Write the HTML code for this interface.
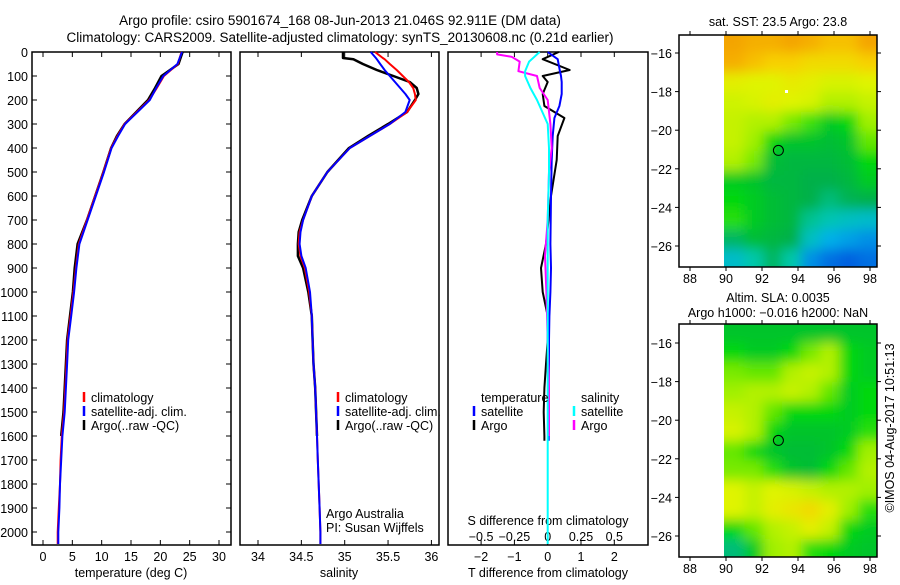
<!DOCTYPE html>
<html><head><meta charset="utf-8"><style>
body{margin:0;background:#fff;}
svg text{font-family:"Liberation Sans",sans-serif;font-size:12.5px;fill:#000;}
</style></head><body>
<svg id="c" width="900" height="580" xmlns="http://www.w3.org/2000/svg">
<defs>
<filter id="bl" x="-0.1" y="-0.1" width="1.2" height="1.2"><feGaussianBlur stdDeviation="6" edgeMode="duplicate"/></filter>
<clipPath id="cm1"><rect x="724" y="35" width="153" height="232"/></clipPath>
<clipPath id="cm2"><rect x="724" y="324" width="153" height="233"/></clipPath>
</defs>
<text x="340" y="25" text-anchor="middle" style="font-size:13.5px">Argo profile: csiro 5901674_168 08-Jun-2013 21.046S 92.911E (DM data)</text>
<text x="340" y="42" text-anchor="middle" style="font-size:13.5px">Climatology: CARS2009. Satellite-adjusted climatology: synTS_20130608.nc (0.21d earlier)</text>
<g id="g"></g>
</svg>
<script>
// ---- data ----
const depths = [0,50,100,150,200,250,300,350,400,500,600,700,800,900,1000,1100,1200,1300,1400,1500,1600,1700,1800,1900,2000,2050];
const tempClim = [23.6,23.0,20.6,19.4,18.1,16.0,13.9,12.7,11.6,10.3,8.9,7.5,6.1,5.6,5.2,4.7,4.2,4.0,3.8,3.6,3.2,3.0,2.9,2.7,2.5,2.5];
const tempSat  = [23.7,22.9,20.5,19.3,18.2,16.1,14.0,12.8,11.7,10.4,9.0,7.6,6.2,5.7,5.3,4.8,4.3,4.1,3.9,3.7,3.3,3.1,2.9,2.8,2.6,2.6];
const tempArgo = [23.8,23.1,20.2,19.1,17.9,15.9,13.9,12.6,11.6,10.3,8.9,7.5,5.9,5.4,5.1,4.6,4.1,3.9,3.7,3.5,3.1];
const salDepths = [0,25,30,50,75,100,125,150,175,200,250,300,350,400,500,600,700,750,800,850,900,1000,1100,1200,1300,1400,1500,1600,1700,1800,1900,2000,2050];
const salClim = [35.35,35.44,35.46,35.52,35.60,35.67,35.74,35.79,35.81,35.82,35.72,35.52,35.29,35.06,34.80,34.62,34.52,34.48,34.47,34.49,34.54,34.59,34.62,34.63,34.64,34.66,34.67,34.68,34.69,34.70,34.71,34.72,34.72];
const salSat  = [35.30,35.36,35.37,35.41,35.46,35.52,35.58,35.64,35.70,35.75,35.70,35.52,35.29,35.06,34.80,34.62,34.52,34.49,34.48,34.50,34.55,34.60,34.62,34.63,34.64,34.66,34.67,34.68,34.69,34.70,34.71,34.72,34.72];
const salArgo = [34.98,34.98,35.10,35.21,35.37,35.56,35.75,35.83,35.85,35.81,35.72,35.50,35.27,35.05,34.80,34.62,34.51,34.47,34.46,34.46,34.52,34.58,34.62,34.63,34.64,34.66,34.67,34.68];
const tdDepths = [0,30,75,100,125,175,225,275,350,450,600,800,900,1000,1100,1200,1300,1400,1500,1600,1620];
const tdSat  = [0,0.3,0.36,0.4,0.42,0.42,0.35,0.2,0.15,0.12,0.1,0.08,0.1,0.08,0.05,0.04,0.04,0.03,0.03,0.03,0.03];
const tdArgo = [0.33,-0.15,0.66,-0.15,0,-0.15,-0.1,0.5,0.3,0.27,0.1,-0.05,-0.2,-0.15,0,0,-0.05,-0.1,-0.12,-0.1,-0.1];
const sdDepths = [0,10,20,40,80,100,150,200,300,400,500,700,850,1000,1200,1400,1600,1800,2050];
const sdArgo = [-0.38,-0.38,-0.27,-0.21,-0.22,-0.08,-0.06,0,0.02,0.03,0.01,0,-0.02,-0.01,0,0.01,0.01,0.01,0.01];
const sdSat  = [-0.06,-0.08,-0.1,-0.14,-0.17,-0.17,-0.13,-0.08,0,0.01,0.01,0,0,0,0,0,0,0,0];
const depthTicks = [0,100,200,300,400,500,600,700,800,900,1000,1100,1200,1300,1400,1500,1600,1700,1800,1900,2000];
const tempTicks = [0,5,10,15,20,25,30];
const salTicks = [34,34.5,35,35.5,36];
const tdTicks = [-2,-1,0,1,2];
const sdTicks = [-0.5,-0.25,0,0.25,0.5];
const lonTicks = [88,90,92,94,96,98];
const latTicks = [-16,-18,-20,-22,-24,-26];
const sstGrid = [
[0.8,0.78,0.78,0.8,0.78,0.75,0.75,0.8],
[0.78,0.75,0.72,0.72,0.7,0.7,0.7,0.72],
[0.66,0.65,0.65,0.67,0.66,0.64,0.64,0.65],
[0.63,0.64,0.66,0.65,0.64,0.6,0.6,0.62],
[0.62,0.6,0.6,0.56,0.53,0.48,0.5,0.58],
[0.62,0.58,0.5,0.47,0.47,0.46,0.47,0.55],
[0.6,0.56,0.46,0.45,0.45,0.45,0.46,0.5],
[0.48,0.47,0.45,0.45,0.44,0.44,0.45,0.48],
[0.5,0.48,0.46,0.45,0.44,0.4,0.43,0.44],
[0.52,0.48,0.46,0.45,0.38,0.35,0.33,0.32],
[0.42,0.46,0.45,0.44,0.33,0.28,0.26,0.24],
[0.32,0.36,0.42,0.36,0.24,0.2,0.18,0.2]];
const slaGrid = [
[0.47,0.47,0.47,0.47,0.47,0.47,0.47,0.47],
[0.5,0.48,0.48,0.5,0.56,0.6,0.5,0.48],
[0.56,0.55,0.55,0.6,0.62,0.6,0.5,0.48],
[0.58,0.6,0.6,0.62,0.6,0.55,0.48,0.5],
[0.62,0.6,0.55,0.5,0.5,0.5,0.48,0.5],
[0.64,0.6,0.5,0.47,0.47,0.47,0.48,0.52],
[0.55,0.5,0.47,0.46,0.46,0.47,0.5,0.58],
[0.56,0.56,0.52,0.47,0.46,0.5,0.55,0.6],
[0.65,0.62,0.65,0.64,0.62,0.6,0.6,0.58],
[0.65,0.62,0.66,0.68,0.7,0.66,0.58,0.52],
[0.5,0.55,0.6,0.62,0.66,0.62,0.5,0.48],
[0.4,0.48,0.58,0.6,0.52,0.5,0.48,0.47]];
const argoLon = 92.911, argoLat = -21.046;

// ---- helpers ----
const NS="http://www.w3.org/2000/svg";
const G=document.getElementById('g');
function el(t,a,p){const e=document.createElementNS(NS,t);for(const k in a)e.setAttribute(k,a[k]);(p||G).appendChild(e);return e;}
const yD=d=>52+d*0.24;
const xT=v=>43+v*5.867;
const xS=v=>258+(v-34)*86.7;
const xTD=v=>547.7+v*33.3;
const xSD=v=>547.7+v*133.2;
function line(xs,ds,fx,col,w,name){
  let p='';for(let i=0;i<xs.length;i++)p+=(i?'L':'M')+fx(xs[i]).toFixed(1)+','+yD(ds[i]).toFixed(1);
  const e=el('path',{d:p,fill:'none',stroke:col,'stroke-width':w,'stroke-linejoin':'round'});
  
  
}
function txt(x,y,s,anchor,name,extra){
  const e=el('text',Object.assign({x:x,y:y,'text-anchor':anchor||'start'},extra||{}));e.textContent=s;
  
  
  return e;
}
function panel(x0,x1,name){
  const e=el('rect',{x:x0,y:52,width:x1-x0,height:493,fill:'none',stroke:'#000','stroke-width':1.5});
  
  
}
function xticks(ticks,fx,name){
  ticks.forEach(t=>{const x=fx(t);el('line',{x1:x,x2:x,y1:545,y2:540,stroke:'#000'});el('line',{x1:x,x2:x,y1:52,y2:57,stroke:'#000'});
  txt(x,561,String(t).replace('-','\u2212'),'middle',name);});
}
panel(32,231,'temperature-panel');panel(240,439,'salinity-panel');panel(448,648,'difference-panel');
depthTicks.forEach(d=>{el('line',{x1:32,x2:37,y1:yD(d),y2:yD(d),stroke:'#000'});el('line',{x1:231,x2:226,y1:yD(d),y2:yD(d),stroke:'#000'});txt(28,yD(d)+5,String(d),'end','depth-tick-label');});
xticks(tempTicks,xT,'temperature-tick-label');
xticks(salTicks,xS,'salinity-tick-label');
xticks(tdTicks,xTD,'t-diff-tick-label');
sdTicks.forEach(t=>txt(xSD(t),541,String(t).replace('-','\u2212'),'middle','s-diff-tick-label'));
txt(131,577,'temperature (deg C)','middle','x-axis-title-temperature');
txt(339,577,'salinity','middle','x-axis-title-salinity');
txt(548,577,'T difference from climatology','middle','x-axis-title-t-diff');
txt(548,525,'S difference from climatology','middle','s-diff-axis-title');
line(tempArgo,depths.slice(0,tempArgo.length),xT,'#000',2.5,'temp-argo-line');
line(tempClim,depths,xT,'#f00',2,'temp-clim-line');
line(tempSat,depths,xT,'#00f',2,'temp-sat-line');
line(salArgo,salDepths.slice(0,salArgo.length),xS,'#000',2.5,'sal-argo-line');
line(salClim,salDepths,xS,'#f00',2,'sal-clim-line');
line(salSat,salDepths,xS,'#00f',2,'sal-sat-line');
line(tdArgo,tdDepths,xTD,'#000',2,'t-diff-argo-line');
line(tdSat,tdDepths,xTD,'#00f',2,'t-diff-sat-line');
line(sdArgo,sdDepths.slice(0,17),xSD,'#f0f',2,'s-diff-argo-line');
line(sdSat,sdDepths,xSD,'#0ff',2,'s-diff-sat-line');
function leg(x,y,col,s,name){el('line',{x1:x,x2:x,y1:y-10,y2:y,stroke:col,'stroke-width':2.5});txt(x+7,y,s,'start',name);}
leg(84,402,'#f00','climatology','legend-climatology');leg(84,416,'#00f','satellite-adj. clim.','legend-satellite-adj');leg(84,430,'#000','Argo(..raw -QC)','legend-argo');
leg(338,402,'#f00','climatology','legend-climatology');leg(338,416,'#00f','satellite-adj. clim.','legend-satellite-adj');leg(338,430,'#000','Argo(..raw -QC)','legend-argo');
txt(481,402,'temperature','start','legend-temperature-header');txt(581,402,'salinity','start','legend-salinity-header');
leg(474,416,'#00f','satellite','legend-t-satellite');leg(474,430,'#000','Argo','legend-t-argo');
leg(574,416,'#0ff','satellite','legend-s-satellite');leg(574,430,'#f0f','Argo','legend-s-argo');
txt(326,518,'Argo Australia','start','credit-argo-australia');txt(326,532,'PI: Susan Wijffels','start','credit-pi');
const stops=[[0.18,[0,96,224]],[0.28,[0,176,232]],[0.36,[0,200,170]],[0.44,[0,176,72]],[0.5,[0,216,16]],[0.58,[160,240,0]],[0.65,[224,244,0]],[0.72,[248,208,0]],[0.8,[244,164,0]]];
function cmap(v){if(v<=stops[0][0])return 'rgb('+stops[0][1]+')';for(let i=1;i<stops.length;i++){if(v<=stops[i][0]){const a=stops[i-1],b=stops[i],f=(v-a[0])/(b[0]-a[0]);return 'rgb('+a[1].map((c,j)=>Math.round(c+(b[1][j]-c)*f)).join(',')+')';}}return 'rgb('+stops[stops.length-1][1]+')';}
function map(y0,y1,latTop,grid,clip,name,title1,title2){
  const lonX=l=>690+(l-88)*18, latY=la=>latTop+(-16-la)*19.3;
  const g=el('g',{'clip-path':'url(#'+clip+')'});
  
  
  const gi=el('g',{filter:'url(#bl)'},g);
  const cw=(98.4-90)/grid[0].length, rh=12.2/grid.length;
  grid.forEach((row,r)=>row.forEach((v,c)=>{
    let x=lonX(90+c*cw),y=latY(-15-r*rh),w=cw*18,h=rh*19.3;
    if(c===0){x-=25;w+=25;}
    if(c===grid[0].length-1)w+=20; if(r===grid.length-1)h+=20; if(r===0){y-=20;h+=20;}
    const rc=el('rect',{x:x-0.5,y:y-0.5,width:w+1,height:h+1,fill:cmap(v)},gi);
    
    }));
  const b=el('rect',{x:679,y:y0,width:198,height:y1-y0,fill:'none',stroke:'#000','stroke-width':1.5});
  
  
  lonTicks.forEach(l=>{el('line',{x1:lonX(l),x2:lonX(l),y1:y1,y2:y1+4,stroke:'#000'});el('line',{x1:lonX(l),x2:lonX(l),y1:y0,y2:y0-4,stroke:'#000'});txt(lonX(l),y1+16,String(l),'middle','lon-tick-label');});
  latTicks.forEach(la=>{el('line',{x1:679,x2:675,y1:latY(la),y2:latY(la),stroke:'#000'});el('line',{x1:877,x2:881,y1:latY(la),y2:latY(la),stroke:'#000'});txt(672,latY(la)+5,String(la).replace('-','\u2212'),'end','lat-tick-label');});
  const ci=el('circle',{cx:lonX(argoLon),cy:latY(argoLat),r:5,fill:'none',stroke:'#000','stroke-width':1});
  
  
  txt(778,title2?y0-22:y0-9,title1,'middle',name+'-title');
  if(title2)txt(778,y0-7,title2,'middle',name+'-subtitle');
}
map(35,267,53,sstGrid,'cm1','sst-map','sat. SST: 23.5 Argo: 23.8');
el('rect',{x:785,y:90,width:3,height:3,fill:'#fff'});
map(324,557,343,slaGrid,'cm2','sla-map','Altim. SLA: 0.0035','Argo h1000: \u22120.016 h2000: NaN');
txt(0,0,'\u00a9IMOS 04-Aug-2017 10:51:13','middle','timestamp-credit',{transform:'translate(894,428) rotate(-90)'});
</script>
</body></html>
